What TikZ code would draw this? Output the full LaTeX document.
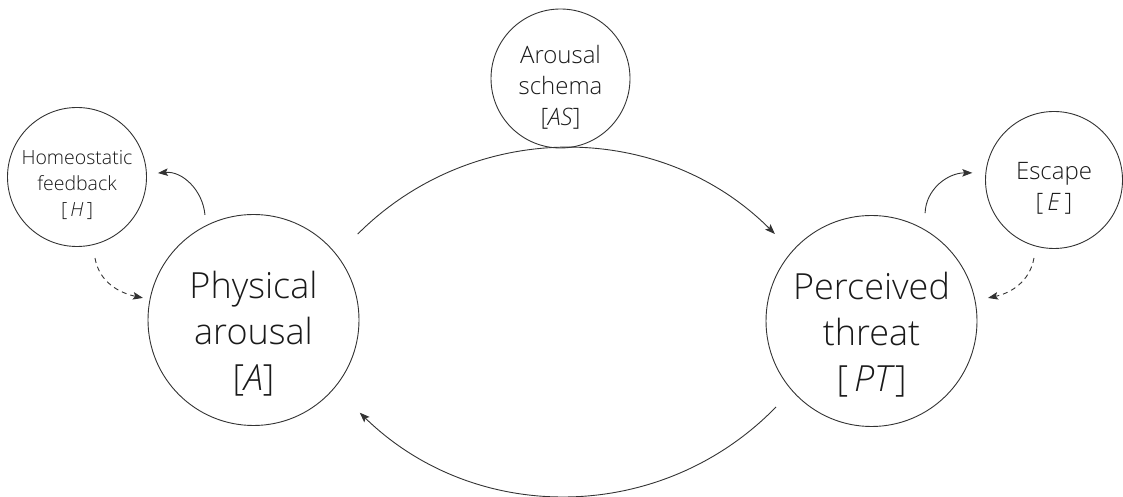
\documentclass[tikz,border=0pt]{standalone}
\usepackage{fontspec}
\setmainfont{Open Sans Light}[ItalicFont={Open Sans Light Italic}]
\usetikzlibrary{arrows.meta,calc}
\definecolor{linec}{HTML}{333333}
\definecolor{textc}{HTML}{1A1A1A}
\begin{document}
\begin{tikzpicture}[x=1pt,y=1pt,
  circ/.style={circle,draw=linec,line width=0.9pt,inner sep=0pt},
  bigc/.style={circ,minimum size=211pt},
  smallc/.style={circ,minimum size=139pt},
  lbl/.style={align=center,inner sep=0pt,text=textc},
  bigtext/.style={lbl,font=\fontsize{36}{46}\selectfont},
  medtext/.style={lbl,font=\fontsize{24}{31}\selectfont},
  smalltext/.style={lbl,font=\fontsize{19.5}{26}\selectfont},
  arr/.style={draw=linec,line width=0.9pt,-{Stealth[length=10pt,width=7.5pt,inset=2pt]}},
  darr/.style={arr,dash pattern=on 5pt off 4pt}
]
\useasboundingbox (0,0) rectangle (1123,497);
% circles
\node[bigc] (A) at (253.5,177) {};
\node[bigc] (PT) at (871.5,176) {};
\node[smallc] (H) at (77,320) {};
\node[smallc,minimum size=137pt] (E) at (1054,317) {};
\node[smallc] (AS) at (560.5,418.5) {};
% texts
\node[bigtext] (At) at ($(A.center)+(0,-14)$) {Physical\\arousal\\{[}\textit{A}]};
\node[bigtext] (PTt) at ($(PT.center)+(0,-14)$) {Perceived\\threat\\{[}\,\textit{PT}]};
\node[smalltext] (Ht) at ($(H.center)+(0,-8)$) {Homeostatic\\feedback\\{[}\,\textit{H}\,]};
\node[medtext] (Et) at ($(E.center)+(0,-8)$) {Escape\\{[}\,\textit{E}\,]};
\node[medtext] (ASt) at ($(AS.center)+(0,-9)$) {Arousal\\schema\\{[}\textit{AS}]};
% main loop
\draw[arr] ($(A.center)+(39.5:135)$) to[bend left=45] ($(PT.center)+(138:130)$);
\draw[arr] ($(PT.center)+(222:128.5)$) to[bend left=45] ($(A.center)+(-41.1:141)$);
% feedback arrows
\draw[arr] ($(A.center)+(114.8:115.7)$) to[out=95,in=5] ($(H.center)+(2.8:81)$);
\draw[arr] ($(PT.center)+(63.6:120.5)$) to[out=88,in=180] ($(E.center)+(175:82)$);
\draw[darr] ($(H.center)+(-77.5:83)$) to[out=-80,in=168] ($(A.center)+(168.7:112.7)$);
\draw[darr] ($(E.center)+(255.6:80.5)$) to[out=-100,in=12] ($(PT.center)+(11.2:118.7)$);
\end{tikzpicture}
\end{document}
